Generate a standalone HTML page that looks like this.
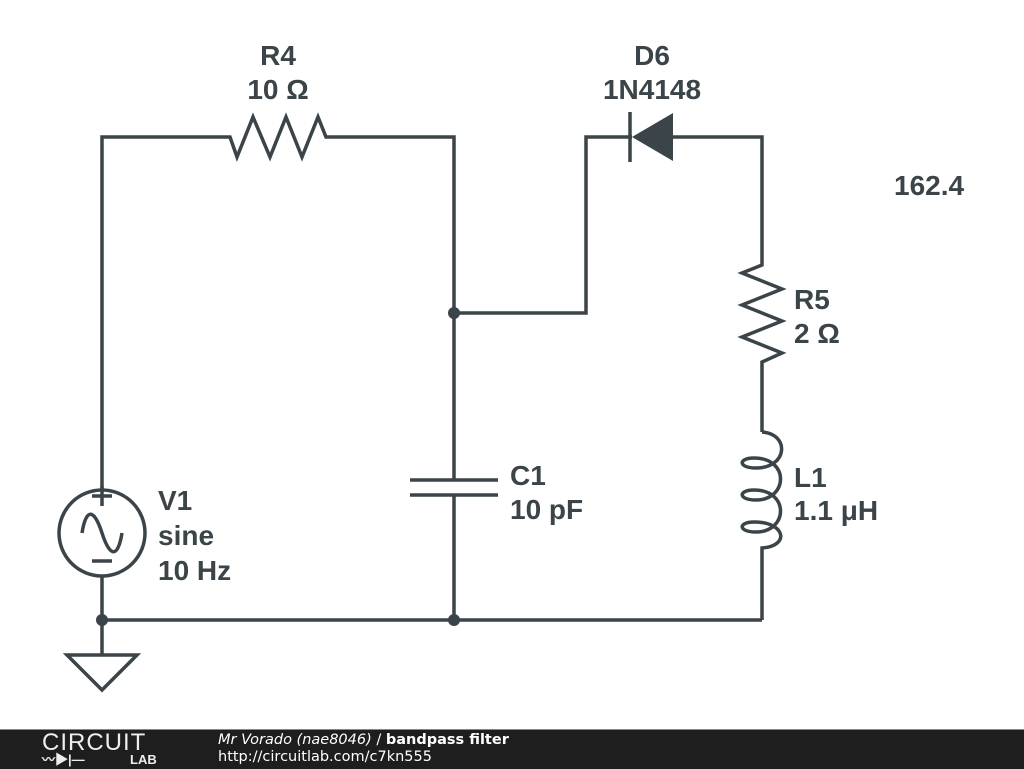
<!DOCTYPE html>
<html><head><meta charset="utf-8"><style>
html,body{margin:0;padding:0;background:#fff;}
body{width:1024px;height:768px;position:relative;overflow:hidden;font-family:"Liberation Sans",sans-serif;}
svg text{font-family:"Liberation Sans","DejaVu Sans",sans-serif;font-weight:bold;font-size:28px;fill:#3a4449;}
#foot{position:absolute;left:0;top:729px;width:1024px;height:39px;background:#1e1e1e;border-top:1px solid #888;}
</style></head><body>
<svg width="1024" height="730" viewBox="0 0 1024 730" style="position:absolute;left:0;top:0">
<g fill="none" stroke="#3a4449" stroke-width="3.5" stroke-linejoin="miter">
<polyline points="102,490 102,137 230,137 237,157 253,117 270,157 286,117 302,157 318,117 326,137 454,137 454,480"/>
<polyline points="454,313 586,313 586,137 632,137"/>
<polyline points="673,137 762,137 762,265 742,273 782,289 742,305 782,321 742,337 782,353 762,362 762,432"/>
<path d="M762,432 C790,434 788,468 756,468 C738,468 738,458 754,458 C790,458 788,500 756,500 C738,500 738,490 754,490 C790,490 788,532 756,532 C738,532 738,522 754,522 C786,522 790,546 762,548 L762,620"/>
<line x1="454" y1="495" x2="454" y2="620"/>
<line x1="410" y1="480" x2="498" y2="480"/>
<line x1="410" y1="495" x2="498" y2="495"/>
<polyline points="102,576 102,620 762,620"/>
<line x1="102" y1="620" x2="102" y2="655"/>
<polygon points="67,655 137,655 102,690"/>
<circle cx="102" cy="533" r="43"/>
<line x1="630" y1="112" x2="630" y2="162"/>
<path d="M92,496 H112 M102,486 V506 M92,561 H112"/>
<path d="M82,533 C86,508 94,508 102,533 C110,558 118,558 122,533"/>
</g>
<polygon points="673,113 673,161 632,137" fill="#3a4449"/>
<circle cx="454" cy="313" r="6" fill="#3a4449"/>
<circle cx="454" cy="620" r="6" fill="#3a4449"/>
<circle cx="102" cy="620" r="6" fill="#3a4449"/>
<text x="278" y="65" text-anchor="middle">R4</text>
<text x="278" y="99" text-anchor="middle">10 Ω</text>
<text x="652" y="65" text-anchor="middle">D6</text>
<text x="652" y="99" text-anchor="middle">1N4148</text>
<text x="894" y="195">162.4</text>
<text x="794" y="309">R5</text>
<text x="794" y="343">2 Ω</text>
<text x="794" y="487">L1</text>
<text x="794" y="520">1.1 μH</text>
<text x="510" y="485">C1</text>
<text x="510" y="519">10 pF</text>
<text x="158" y="510">V1</text>
<text x="158" y="545">sine</text>
<text x="158" y="580">10 Hz</text>
</svg>
<div id="foot">
<div style="position:absolute;left:42px;top:1px;color:#eee;font-size:24px;letter-spacing:1px;font-family:'Liberation Sans',sans-serif;font-weight:normal;line-height:24px">CIRCUIT</div>
<div style="position:absolute;left:42px;top:24px;width:85px;height:12px;color:#eee;font-size:13px;font-weight:bold;line-height:12px"><span style="display:inline-block;width:88px">〰▶|—</span><span style="position:absolute;left:88px;top:0">LAB</span></div>
<div style="position:absolute;left:218px;top:2px;color:#fff;font-size:14.5px;line-height:17px;font-family:'DejaVu Sans',sans-serif"><i>Mr Vorado (nae8046)</i> / <b>bandpass filter</b><br>http://circuitlab.com/c7kn555</div>
</div>
</body></html>
